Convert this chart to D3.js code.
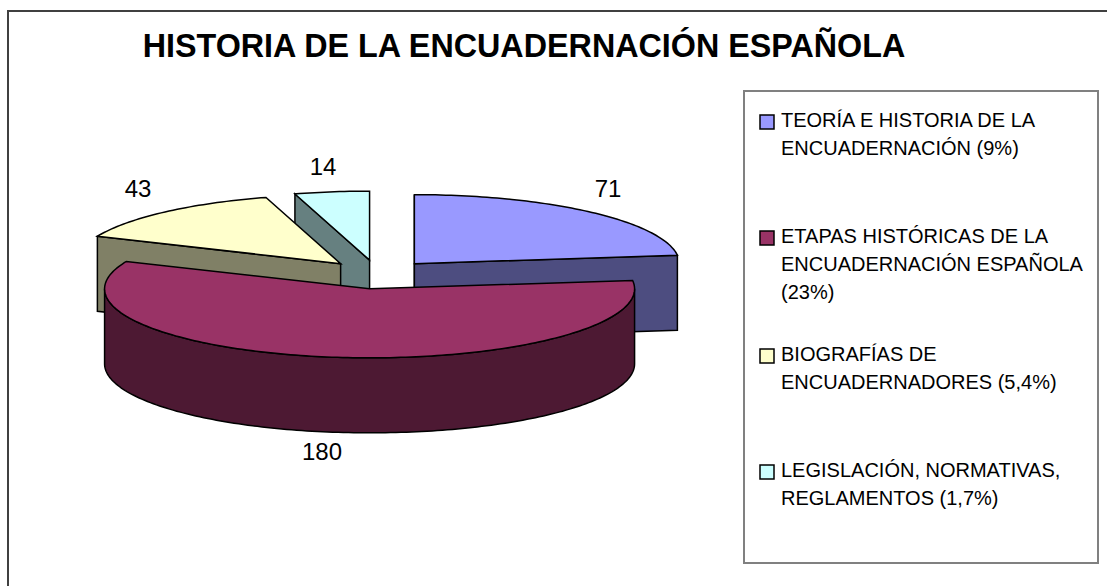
<!DOCTYPE html>
<html>
<head>
<meta charset="utf-8">
<script src="https://cdn.jsdelivr.net/npm/d3@7"></script>
<style>
  html, body { margin: 0; padding: 0; background: #fff; }
  svg { display: block; }
  text { font-family: "Liberation Sans", Arial, sans-serif; fill: #000; }
</style>
</head>
<body>
<svg id="chart" width="1107" height="586"></svg>
<script>
var chartTitle = 'HISTORIA DE LA ENCUADERNACIÓN ESPAÑOLA';
var values = [71, 180, 43, 14];
var topColors = ['#9999ff', '#993366', '#ffffcc', '#ccffff'];
var sideColors = ['#4d4d80', '#4d1933', '#808066', '#668080'];
var legendLabels = [
  ['TEORÍA E HISTORIA DE LA', 'ENCUADERNACIÓN (9%)'],
  ['ETAPAS HISTÓRICAS DE LA', 'ENCUADERNACIÓN ESPAÑOLA', '(23%)'],
  ['BIOGRAFÍAS DE', 'ENCUADERNADORES (5,4%)'],
  ['LEGISLACIÓN, NORMATIVAS,', 'REGLAMENTOS (1,7%)']
];

var svg = d3.select('#chart');

var cx = 377.5, cy = 274.5, rx = 265, ry = 69, depth = 75, explode = 0.21;
var TAU = Math.PI * 2;

// frame, open on the right and at the bottom
svg.append('path')
  .attr('d', 'M8,586V11H1107')
  .attr('fill', 'none')
  .attr('stroke', '#404040')
  .attr('stroke-width', 2);

svg.append('text')
  .attr('x', 524)
  .attr('y', 57)
  .attr('text-anchor', 'middle')
  .attr('font-size', 32.3)
  .attr('font-weight', 'bold')
  .text(chartTitle);

var arcs = d3.pie().sort(null).startAngle(0).endAngle(TAU)(values);

var line = d3.line();

var point = function(center, r, angle) {
  return [center[0] + r * rx * Math.sin(angle), center[1] - r * ry * Math.cos(angle)];
};

var down = function(p) { return [p[0], p[1] + depth]; };

var rim = function(center, a0, a1) {
  var n = Math.max(2, Math.ceil((a1 - a0) / 0.02));
  return d3.range(n + 1).map(function(i) {
    return point(center, 1, a0 + (a1 - a0) * i / n);
  });
};

var slices = arcs.map(function(arc) {
  var mid = (arc.startAngle + arc.endAngle) / 2;
  return {
    arc: arc,
    index: arc.index,
    center: point([cx, cy], explode, mid)
  };
});

// back to front: cyan, yellow, blue, red
var drawOrder = [3, 2, 0, 1];

var layer = svg.append('g')
  .attr('stroke', '#000')
  .attr('stroke-width', 1.5)
  .attr('stroke-linejoin', 'miter');

drawOrder.forEach(function(i) {
  var s = slices[i], a0 = s.arc.startAngle, a1 = s.arc.endAngle;
  var g = layer.append('g');

  var wall = function(angle) {
    var p = point(s.center, 1, angle);
    g.append('path')
      .attr('d', line([s.center, p, down(p), down(s.center)]) + 'Z')
      .attr('fill', sideColors[i]);
  };

  if (Math.sin(a0) <= 1e-9) wall(a0);
  if (Math.sin(a1) > 1e-9) wall(a1);

  // outer surface only shows on the lower half of the ellipse
  var from = Math.max(a0, Math.PI / 2), to = Math.min(a1, Math.PI * 1.5);
  if (to > from) {
    var edge = rim(s.center, from, to);
    g.append('path')
      .attr('d', line(edge.concat(edge.map(down).reverse())) + 'Z')
      .attr('fill', sideColors[i]);
  }

  g.append('path')
    .attr('d', line([s.center].concat(rim(s.center, a0, a1))) + 'Z')
    .attr('fill', topColors[i]);
});

// value labels
var labelPos = [[608, 197], [322, 460], [138, 197], [323, 175]];
svg.append('g').selectAll('text')
  .data(values)
  .enter().append('text')
  .attr('x', function(d, i) { return labelPos[i][0]; })
  .attr('y', function(d, i) { return labelPos[i][1]; })
  .attr('text-anchor', 'middle')
  .attr('font-size', 24)
  .text(function(d) { return d; });

// legend
var legend = svg.append('g');

legend.append('rect')
  .attr('x', 744)
  .attr('y', 91)
  .attr('width', 354)
  .attr('height', 472)
  .attr('fill', '#fff')
  .attr('stroke', '#808080')
  .attr('stroke-width', 2);

var legendY = [127, 243, 361, 477];

var items = legend.selectAll('g.item')
  .data(legendLabels)
  .enter().append('g')
  .attr('class', 'item')
  .attr('transform', function(d, i) { return 'translate(0,' + legendY[i] + ')'; });

items.append('rect')
  .attr('x', 760)
  .attr('y', -12)
  .attr('width', 14)
  .attr('height', 14)
  .attr('fill', function(d, i) { return topColors[i]; })
  .attr('stroke', '#000')
  .attr('stroke-width', 1.5);

items.selectAll('text')
  .data(function(d) { return d; })
  .enter().append('text')
  .attr('x', 781)
  .attr('y', function(d, i) { return i * 28; })
  .attr('font-size', 20)
  .text(function(d) { return d; });
</script>
</body>
</html>
